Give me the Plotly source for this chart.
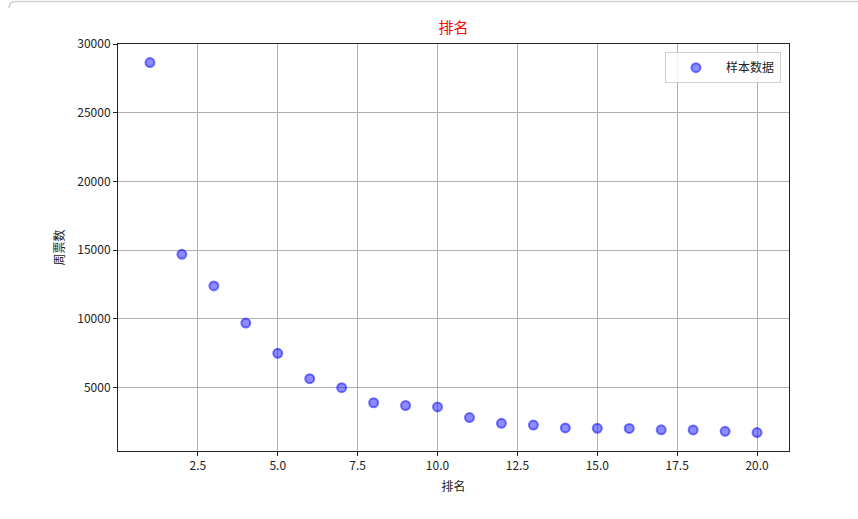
import plotly.graph_objects as go

ranks = list(range(1, 21))
weekly_votes = [28650, 14700, 12400, 9700, 7500, 5650, 5000, 3900, 3700, 3600,
                2820, 2400, 2280, 2070, 2040, 2030, 1930, 1920, 1820, 1730]
series_name = "样本数据"
title_text = "排名"
x_label = "排名"
y_label = "周票数"
x_ticks = [2.5, 5.0, 7.5, 10.0, 12.5, 15.0, 17.5, 20.0]
y_ticks = [5000, 10000, 15000, 20000, 25000, 30000]

FONT = "Noto Sans CJK SC, Liberation Sans, sans-serif"

fig = go.Figure()
fig.add_trace(go.Scatter(
    x=ranks, y=weekly_votes, mode="markers", name=series_name,
    marker=dict(size=9, color="rgba(0,0,255,0.45)",
                line=dict(color="rgba(0,0,255,0.5)", width=2)),
))

fig.update_layout(
    width=858, height=519,
    margin=dict(l=118, r=69, t=44, b=68),
    paper_bgcolor="white", plot_bgcolor="white",
    font=dict(family=FONT, size=12, color="#222222"),
    title=dict(text=title_text, x=(118 + 789) / 2 / 858, xanchor="center",
               y=1 - 28 / 519, yanchor="middle",
               font=dict(color="red", size=15, family=FONT)),
    showlegend=True,
    legend=dict(x=0.988, y=0.98, xanchor="right", yanchor="top", itemwidth=50,
                bgcolor="rgba(255,255,255,0.8)", bordercolor="#d0d0d0", borderwidth=1,
                font=dict(size=12, family=FONT)),
    xaxis=dict(range=[0, 21], tickvals=x_ticks, tickformat=".1f",
               showgrid=True, gridcolor="#b0b0b0", gridwidth=1,
               showline=True, linecolor="#222222", linewidth=1, mirror=True,
               ticks="outside", ticklen=4, tickcolor="#222222",
               zeroline=False,
               title=dict(text=x_label, font=dict(size=12), standoff=10)),
    yaxis=dict(range=[390, 30000], tickvals=y_ticks, tickformat="d",
               showgrid=True, gridcolor="#b0b0b0", gridwidth=1,
               showline=True, linecolor="#222222", linewidth=1, mirror=True,
               ticks="outside", ticklen=4, tickcolor="#222222",
               zeroline=False,
               title=dict(text=y_label, font=dict(size=12), standoff=10)),
)

# notebook cell border at very top
fig.add_shape(type="path", xref="paper", yref="paper",
              path="M {x0},{y0} Q {x0},{y1} {x2},{y1} L {x3},{y1}".format(
                  x0=(9 - 118) / 671, y0=1 + (44 - 8) / 407,
                  y1=1 + (44 - 1.5) / 407, x2=(16 - 118) / 671, x3=(858 - 118) / 671),
              line=dict(color="#d0d0d0", width=1.5))

fig.write_html("out.html", config={"displayModeBar": False},
               post_script="document.body.style.margin='0';document.body.style.overflow='hidden';")
